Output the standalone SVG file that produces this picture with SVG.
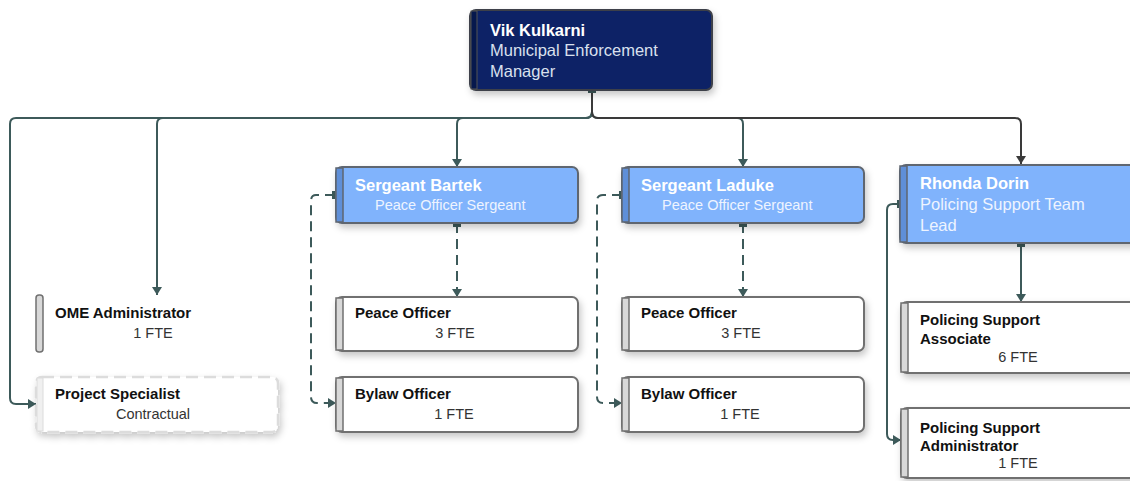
<svg xmlns="http://www.w3.org/2000/svg" width="1130" height="481" viewBox="0 0 1130 481">
<defs>
  <filter id="sh" x="-10%" y="-20%" width="130%" height="160%">
    <feDropShadow dx="2" dy="4" stdDeviation="3.5" flood-color="#000" flood-opacity="0.22"/>
  </filter>
  <marker id="arr" viewBox="0 0 8 10" markerWidth="8" markerHeight="10" refX="8" refY="5" orient="auto" markerUnits="userSpaceOnUse">
    <path d="M0,0 L8,5 L0,10 z" fill="#3d5a5a"/>
  </marker>
  <marker id="arrd" viewBox="0 0 8 10" markerWidth="8" markerHeight="10" refX="8" refY="5" orient="auto" markerUnits="userSpaceOnUse">
    <path d="M0,0 L8,5 L0,10 z" fill="#3a3a3a"/>
  </marker>
</defs>
<style>
  text { font-family: "Liberation Sans", Arial, sans-serif; }
  .t { font-weight: bold; font-size: 15px; fill: #111; }
  .s { font-size: 14.5px; fill: #333; text-anchor: middle; }
  .wt { font-weight: bold; font-size: 16.5px; fill: #fff; }
  .ws { font-size: 14.5px; fill: #eef4ff; }
  .wl { font-size: 16.5px; }
  .box { fill: #fff; stroke: #707070; stroke-width: 2; }
  .blue { fill: #80b3fc; stroke: #5e6670; stroke-width: 2; }
  .stripe { fill: #d8d8d8; stroke: #707070; stroke-width: 1.5; }
  .bstripe { fill: #5f8fd8; stroke: #5e6670; stroke-width: 1.5; }
  .c { fill: none; stroke: #3d5a5a; stroke-width: 2; }
  .d { stroke-dasharray: 10 6; }
  .sq { fill: #3d5a5a; }
</style>

<g id="connectors">
  <path class="c" d="M592,89 V112 Q592,118 586,118 H16 Q10,118 10,124 V398 Q10,404 16,404 H36" marker-end="url(#arr)"/>
  <path class="c" d="M592,89 V112 Q592,118 586,118 H163 Q157,118 157,124 V295" marker-end="url(#arr)"/>
  <path class="c" d="M592,89 V112 Q592,118 586,118 H463 Q457,118 457,124 V167" marker-end="url(#arr)"/>
  <path class="c" d="M592,89 V112 Q592,118 598,118 H737 Q743,118 743,124 V167" marker-end="url(#arr)"/>
  <path class="c" d="M592,89 V112 Q592,118 598,118 H1015 Q1021,118 1021,124 V164" style="stroke:#3a3a3a" marker-end="url(#arrd)"/>
  <rect class="sq" x="588" y="86" width="8" height="7"/>

  <path class="c d" d="M457,223 V297" marker-end="url(#arr)"/>
  <rect class="sq" x="453" y="220" width="8" height="7"/>
  <path class="c d" d="M335,195 H316 Q311,195 311,201 V397 Q311,403 317,403 H336" marker-end="url(#arr)"/>
  <rect class="sq" x="332" y="191" width="7" height="8"/>

  <path class="c d" d="M743,223 V297" marker-end="url(#arr)"/>
  <rect class="sq" x="739" y="220" width="8" height="7"/>
  <path class="c d" d="M622,195 H603 Q597,195 597,201 V397 Q597,403 603,403 H622" marker-end="url(#arr)"/>
  <rect class="sq" x="619" y="191" width="7" height="8"/>

  <path class="c" d="M1021,243 V302" marker-end="url(#arr)"/>
  <rect class="sq" x="1017" y="240" width="8" height="7"/>
  <path class="c" d="M900,204 H893 Q887,204 887,210 V434 Q887,440 893,440 H901" marker-end="url(#arr)"/>
  <rect class="sq" x="897" y="200" width="7" height="8"/>
</g>

<g id="vik">
  <rect x="470" y="10" width="242" height="80" rx="6" fill="#0b2366" stroke="#3c3f48" stroke-width="2" filter="url(#sh)"/>
  <rect x="471" y="11" width="6" height="78" fill="#06184d" stroke="#555" stroke-width="1"/>
  <text class="wt" x="490" y="36">Vik Kulkarni</text>
  <text class="ws wl" x="490" y="56" style="fill:#d9e0ee">Municipal Enforcement</text>
  <text class="ws wl" x="490" y="77" style="fill:#d9e0ee">Manager</text>
</g>

<g id="bartek">
  <rect class="blue" x="336" y="167" width="242" height="56" rx="6" filter="url(#sh)"/>
  <rect class="bstripe" x="336" y="168" width="7" height="54"/>
  <text class="wt" x="355" y="191">Sergeant Bartek</text>
  <text class="ws" x="375" y="210">Peace Officer Sergeant</text>
</g>

<g id="laduke">
  <rect class="blue" x="622" y="167" width="242" height="56" rx="6" filter="url(#sh)"/>
  <rect class="bstripe" x="622" y="168" width="7" height="54"/>
  <text class="wt" x="641" y="191">Sergeant Laduke</text>
  <text class="ws" x="662" y="210">Peace Officer Sergeant</text>
</g>

<g id="rhonda">
  <rect class="blue" x="900" y="165" width="260" height="78" rx="6" filter="url(#sh)"/>
  <rect class="bstripe" x="900" y="166" width="7" height="76"/>
  <text class="wt" x="920" y="189">Rhonda Dorin</text>
  <text class="ws wl" x="920" y="210">Policing Support Team</text>
  <text class="ws wl" x="920" y="231">Lead</text>
</g>

<g id="ome-admin">
  <rect class="stripe" x="36" y="295" width="7" height="57" rx="3"/>
  <text class="t" x="55" y="318">OME Administrator</text>
  <text class="s" x="153" y="338">1 FTE</text>
</g>

<g id="project-specialist">
  <rect x="36" y="377" width="242" height="55" rx="6" fill="#fff" stroke="#dcdcdc" stroke-width="2.5" stroke-dasharray="12 6" filter="url(#sh)"/>
  <rect x="37" y="378" width="6" height="53" fill="#f0f0f0" stroke="#dcdcdc" stroke-width="1"/>
  <text class="t" x="55" y="399">Project Specialist</text>
  <text class="s" x="153" y="419">Contractual</text>
</g>

<g id="peace-officer-1">
  <rect class="box" x="336" y="297" width="242" height="54" rx="6" filter="url(#sh)"/>
  <rect class="stripe" x="336" y="298" width="7" height="52"/>
  <text class="t" x="355" y="318">Peace Officer</text>
  <text class="s" x="455" y="338">3 FTE</text>
</g>

<g id="bylaw-officer-1">
  <rect class="box" x="336" y="377" width="242" height="55" rx="6" filter="url(#sh)"/>
  <rect class="stripe" x="336" y="378" width="7" height="53"/>
  <text class="t" x="355" y="399">Bylaw Officer</text>
  <text class="s" x="454" y="419">1 FTE</text>
</g>

<g id="peace-officer-2">
  <rect class="box" x="622" y="297" width="242" height="54" rx="6" filter="url(#sh)"/>
  <rect class="stripe" x="622" y="298" width="7" height="52"/>
  <text class="t" x="641" y="318">Peace Officer</text>
  <text class="s" x="741" y="338">3 FTE</text>
</g>

<g id="bylaw-officer-2">
  <rect class="box" x="622" y="377" width="242" height="55" rx="6" filter="url(#sh)"/>
  <rect class="stripe" x="622" y="378" width="7" height="53"/>
  <text class="t" x="641" y="399">Bylaw Officer</text>
  <text class="s" x="740" y="419">1 FTE</text>
</g>

<g id="ps-associate">
  <rect class="box" x="901" y="302" width="260" height="71" rx="6" filter="url(#sh)"/>
  <rect class="stripe" x="901" y="303" width="7" height="69"/>
  <text class="t" x="920" y="325">Policing Support</text>
  <text class="t" x="920" y="344">Associate</text>
  <text class="s" x="1018" y="362">6 FTE</text>
</g>

<g id="ps-administrator">
  <rect class="box" x="901" y="408" width="260" height="70" rx="6" filter="url(#sh)"/>
  <rect class="stripe" x="901" y="409" width="7" height="68"/>
  <text class="t" x="920" y="433">Policing Support</text>
  <text class="t" x="920" y="451">Administrator</text>
  <text class="s" x="1018" y="468">1 FTE</text>
</g>
</svg>
